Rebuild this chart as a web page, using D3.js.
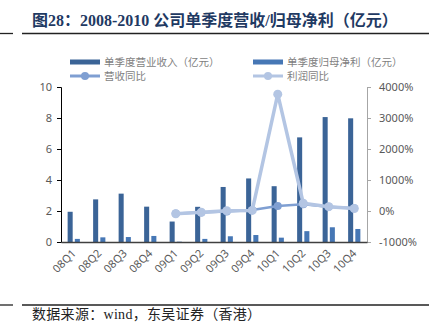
<!DOCTYPE html>
<html><head><meta charset="utf-8">
<script src="https://cdn.jsdelivr.net/npm/d3@7"></script>
<style>body{margin:0;background:#fff}svg{display:block}</style>
</head><body>
<svg id="c" width="429" height="326"></svg>
<script>
const categories = ["08Q1","08Q2","08Q3","08Q4","09Q1","09Q2","09Q3","09Q4","10Q1","10Q2","10Q3","10Q4"];
const revenue = [1.95, 2.75, 3.12, 2.28, 1.32, 2.27, 3.55, 4.1, 3.6, 6.75, 8.06, 7.98];
const profit = [0.2, 0.3, 0.32, 0.39, 0.02, 0.2, 0.37, 0.45, 0.28, 0.7, 0.95, 0.84];
const revenueYoY = [null, null, null, null, -80, -45, -15, 30, 160, 220, 135, 85];
const profitYoY = [null, null, null, null, -90, -40, 10, 20, 3770, 250, 140, 80];
const leftTicks = [0, 2, 4, 6, 8, 10];
const rightTicks = [-1000, 0, 1000, 2000, 3000, 4000];

const svg = d3.select("#c");
const L = 61, R = 367, T = 87, B = 242;
const cDark = "#3b6497", cProfit = "#4677b5", cRevLine = "#7f9fd2", cProfLine = "#b3c5e3";

// title
svg.append("text").attr("x", 32).attr("y", 26)
  .attr("font-family", "'Liberation Serif','Noto Sans CJK SC',serif").attr("font-weight", "bold")
  .attr("font-size", 16).attr("fill", "#1f3a63").text("图28：2008-2010 公司单季度营收/归母净利（亿元）");
// rules
[33.5, 305].forEach(y => {
  svg.append("line").attr("x1", 0).attr("x2", 13).attr("y1", y).attr("y2", y).attr("stroke", "#222").attr("stroke-width", 1.3);
  svg.append("line").attr("x1", 22).attr("x2", 429).attr("y1", y).attr("y2", y).attr("stroke", "#222").attr("stroke-width", 1.3);
});
svg.append("text").attr("x", 32).attr("y", 319)
  .attr("font-family", "'Liberation Serif','Noto Sans CJK SC',serif")
  .attr("font-size", 14).attr("letter-spacing", 0.3).attr("fill", "#222").text("数据来源：wind，东吴证券（香港）");

const x0 = d3.scaleBand().domain(categories).range([L, R]);
const bw = x0.bandwidth();
const x1 = d3.scaleBand().domain(["rev","profit"]).range([0, bw * 0.48]).paddingInner(0.3);
const off = (bw - bw * 0.48) / 2;
const yL = d3.scaleLinear().domain([0, 10]).range([B, T]);
const yR = d3.scaleLinear().domain([-1000, 4000]).range([B, T]);

// bars
svg.append("g").selectAll("rect").data(categories).join("rect")
  .attr("x", d => x0(d) + off + x1("rev")).attr("width", x1.bandwidth())
  .attr("y", (d,i) => yL(revenue[i])).attr("height", (d,i) => B - yL(revenue[i])).attr("fill", cDark);
svg.append("g").selectAll("rect").data(categories).join("rect")
  .attr("x", d => x0(d) + off + x1("profit")).attr("width", x1.bandwidth())
  .attr("y", (d,i) => yL(profit[i])).attr("height", (d,i) => B - yL(profit[i])).attr("fill", cProfit);

// axes
const font = "'Noto Sans','Liberation Sans',sans-serif";
const gL = svg.append("g").attr("transform", `translate(${L},0)`)
  .call(d3.axisLeft(yL).tickValues(leftTicks).tickSize(4).tickPadding(5));
gL.select(".domain").attr("stroke", "#000");
gL.selectAll(".tick line").attr("stroke", "#000");
gL.selectAll("text").attr("font-family", font).attr("font-size", 11).attr("fill", "#595959");

const gR = svg.append("g").attr("transform", `translate(${R},0)`)
  .call(d3.axisRight(yR).tickValues(rightTicks).tickFormat(d => d + "%").tickSize(4).tickPadding(8));
gR.select(".domain").attr("stroke", "#a6a6a6");
gR.selectAll(".tick line").attr("stroke", "#a6a6a6");
gR.selectAll("text").attr("font-family", font).attr("font-size", 11).attr("fill", "#595959");

const gB = svg.append("g").attr("transform", `translate(0,${B})`)
  .call(d3.axisBottom(x0).tickSize(0).tickPadding(0));
gB.select(".domain").attr("stroke", "#404040").attr("stroke-width", 1.3);
gB.selectAll("text").attr("font-family", font).attr("font-size", 11).attr("fill", "#595959")
  .attr("text-anchor", "end").attr("dy", 0)
  .attr("transform", "translate(3,12) rotate(-45)");

// lines
function drawLine(vals, color, w, r) {
  const pts = categories.map((c,i) => [x0(c) + bw/2, vals[i]]).filter(p => p[1] !== null);
  const line = d3.line().x(p => p[0]).y(p => yR(p[1]));
  svg.append("path").attr("d", line(pts)).attr("fill", "none").attr("stroke", color).attr("stroke-width", w).attr("stroke-linejoin", "round");
  svg.append("g").selectAll("circle").data(pts).join("circle")
    .attr("cx", p => p[0]).attr("cy", p => yR(p[1])).attr("r", r).attr("fill", color);
}
drawLine(revenueYoY, cRevLine, 2.5, 4);
drawLine(profitYoY, cProfLine, 3.5, 4.5);

// legend
const lf = "'Noto Sans CJK SC',sans-serif";
const leg = [
  {x: 70, y: 62, type: "bar", color: cDark, label: "单季度营业收入（亿元）"},
  {x: 70, y: 76, type: "line", color: cRevLine, label: "营收同比"},
  {x: 253, y: 62, type: "bar", color: cProfit, label: "单季度归母净利（亿元）"},
  {x: 253, y: 76, type: "line", color: cProfLine, label: "利润同比"}
];
leg.forEach(d => {
  if (d.type === "bar") {
    svg.append("rect").attr("x", d.x).attr("y", d.y - 2.5).attr("width", 30).attr("height", 5).attr("fill", d.color);
  } else {
    svg.append("line").attr("x1", d.x).attr("x2", d.x + 30).attr("y1", d.y).attr("y2", d.y).attr("stroke", d.color).attr("stroke-width", 3);
    svg.append("circle").attr("cx", d.x + 15).attr("cy", d.y).attr("r", 4).attr("fill", d.color);
  }
  svg.append("text").attr("x", d.x + 34).attr("y", d.y + 4).attr("font-family", lf).attr("font-size", 10.5)
    .attr("fill", "#7f7f7f").text(d.label);
});
</script>
</body></html>
